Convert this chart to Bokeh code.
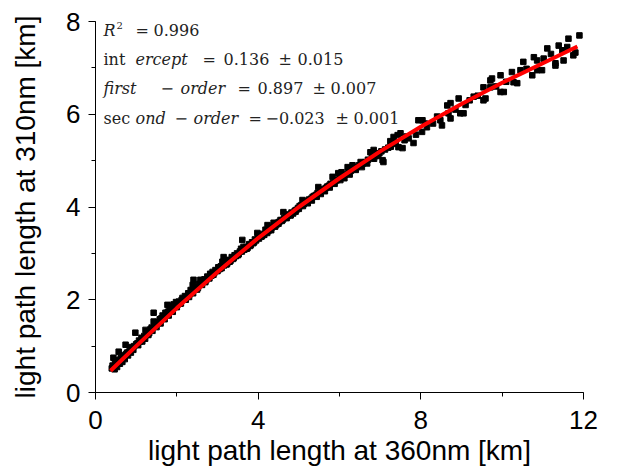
from bokeh.plotting import figure
from bokeh.models import Range1d, SingleIntervalTicker, Label
from bokeh.embed import file_html
from bokeh.resources import INLINE

# ---- data ----
x_360 = [0.40, 0.42, 0.44, 0.45, 0.48, 0.50, 0.52, 0.55, 0.57, 0.58, 0.62, 0.65, 0.68, 0.70, 0.74,
         0.75, 0.78, 0.82, 0.85, 0.88, 0.90, 0.95, 0.98, 1.00, 1.03, 1.07, 1.10, 1.13, 1.17, 1.20,
         1.23, 1.25, 1.28, 1.32, 1.35, 1.38, 1.43, 1.43, 1.45, 1.48, 1.52, 1.55, 1.58, 1.62, 1.65,
         1.68, 1.72, 1.77, 1.78, 1.82, 1.85, 1.88, 1.92, 1.95, 1.98,
         2.02, 2.05, 2.08, 2.12, 2.14, 2.18, 2.20, 2.24, 2.28, 2.32, 2.34, 2.36, 2.39, 2.41, 2.44,
         2.48, 2.52, 2.55, 2.58, 2.60, 2.64, 2.68, 2.72, 2.75, 2.78, 2.82, 2.85, 2.88, 2.92, 2.95,
         2.98, 3.02, 3.05, 3.08, 3.12, 3.15, 3.16, 3.20, 3.24, 3.28, 3.32, 3.35, 3.38, 3.42, 3.45,
         3.48, 3.52, 3.55, 3.58, 3.61, 3.64, 3.66, 3.70, 3.74, 3.78, 3.82, 3.85, 3.88, 3.92, 3.95,
         3.98, 4.00,
         4.04, 4.08, 4.12, 4.15, 4.18, 4.20, 4.23, 4.25, 4.30, 4.34, 4.38, 4.40, 4.45, 4.48, 4.52,
         4.55, 4.58, 4.62, 4.64, 4.68, 4.72, 4.75, 4.79, 4.82, 4.86, 4.90, 4.94, 4.98, 5.02, 5.06,
         5.09, 5.12, 5.16, 5.20, 5.25, 5.30, 5.34, 5.38, 5.42, 5.46, 5.48, 5.52, 5.56, 5.60, 5.66,
         5.70, 5.74, 5.78, 5.83, 5.85, 5.90, 5.94, 5.97, 6.00,
         6.05, 6.08, 6.14, 6.20, 6.22, 6.28, 6.32, 6.36, 6.42, 6.48, 6.52, 6.58, 6.64, 6.70, 6.76,
         6.80, 6.84, 6.88, 6.93, 6.98, 7.03, 7.06, 7.08, 7.12, 7.20, 7.26, 7.33, 7.38, 7.43, 7.45,
         7.50, 7.55, 7.60, 7.70, 7.82, 7.88, 7.94, 8.04, 8.03, 8.15, 8.30, 8.48, 8.52, 8.65, 8.68,
         8.73, 8.73, 8.93, 8.97, 9.05, 9.20, 9.40, 9.54, 9.54, 9.59, 9.71, 9.71, 9.75, 9.96, 9.96,
         10.04, 10.24, 10.28, 10.37, 10.45, 10.52, 10.74, 10.78, 10.86, 10.86, 10.98, 11.02, 11.11,
         11.31, 11.31, 11.39, 11.48, 11.51, 11.63, 11.75, 11.80, 11.90,
         0.47, 0.53, 0.60, 0.66, 0.72, 0.80, 0.87, 0.93, 1.05, 1.15, 1.22, 1.30, 1.40, 1.50, 1.60,
         1.70, 1.80, 1.90, 2.00, 2.10, 2.22, 2.30, 2.40, 2.50, 2.62, 2.70, 2.80, 2.90, 3.00, 3.10,
         3.22, 3.30, 3.40, 3.50, 3.60, 3.72, 3.80, 3.90, 4.02, 4.10, 4.22, 4.32, 4.42, 4.50, 4.60,
         4.70, 4.80, 4.92, 5.00, 5.10, 5.22, 5.32, 5.44, 5.54, 5.64, 5.76, 5.88, 6.02, 6.12, 6.25,
         6.40, 6.55, 6.68, 6.85, 6.95,
         7.25, 7.35, 7.65, 8.10, 8.40, 8.85, 9.10, 9.30, 9.85, 10.10, 10.60, 11.20, 11.60]
y_310 = [0.52, 0.58, 0.75, 0.55, 0.62, 0.60, 0.68, 0.66, 0.88, 0.70, 0.74, 0.72, 0.80, 0.77, 1.03,
         0.83, 0.86, 0.88, 0.92, 0.98, 0.94, 1.00, 1.29, 1.04, 1.06, 1.12, 1.10, 1.18, 1.16, 1.22,
         1.35, 1.24, 1.30, 1.28, 1.36, 1.40, 1.72, 1.53, 1.42, 1.46, 1.52, 1.50, 1.58, 1.60, 1.66,
         1.64, 1.72, 1.89, 1.74, 1.80, 1.78, 1.86, 1.90, 1.88, 1.95,
         1.90, 1.96, 1.92, 2.00, 2.04, 2.02, 2.08, 2.06, 2.14, 2.12, 2.21, 2.18, 2.32, 2.43, 2.22,
         2.28, 2.26, 2.34, 2.43, 2.36, 2.40, 2.44, 2.42, 2.50, 2.48, 2.56, 2.52, 2.60, 2.58, 2.64,
         2.62, 2.70, 2.66, 2.72, 2.82, 2.92, 2.74, 2.80, 2.78, 2.86, 2.84, 2.92, 2.88, 2.96, 2.94,
         3.00, 2.98, 3.04, 3.10, 3.29, 3.14, 3.08, 3.14, 3.12, 3.20, 3.18, 3.24, 3.22, 3.30, 3.28,
         3.44, 3.34,
         3.38, 3.36, 3.42, 3.40, 3.51, 3.46, 3.61, 3.48, 3.52, 3.56, 3.66, 3.58, 3.62, 3.66, 3.68,
         3.72, 3.70, 3.89, 3.76, 3.78, 3.80, 3.84, 3.82, 3.88, 3.86, 3.92, 3.94, 3.98, 4.02, 4.04,
         4.15, 4.06, 4.10, 4.12, 4.16, 4.18, 4.22, 4.24, 4.26, 4.30, 4.43, 4.32, 4.36, 4.38, 4.41,
         4.44, 4.46, 4.50, 4.65, 4.52, 4.56, 4.58, 4.73, 4.64,
         4.75, 4.66, 4.70, 4.86, 4.76, 4.78, 4.90, 4.84, 4.86, 4.90, 4.97, 4.94, 4.97, 5.02, 5.18,
         5.06, 5.23, 5.10, 5.16, 5.16, 5.20, 5.01, 4.97, 5.24, 5.28, 5.30, 5.51, 5.36, 5.55, 5.29,
         5.59, 5.27, 5.44, 5.48, 5.38, 5.56, 5.87, 5.87, 5.62, 5.72, 5.80, 5.87, 5.76, 6.19, 6.02,
         5.91, 6.24, 6.34, 6.02, 6.02, 6.30, 6.40, 6.58, 6.30, 6.34, 6.73, 6.58, 6.77, 6.84, 6.48,
         6.48, 6.91, 6.69, 6.67, 6.95, 7.13, 6.84, 7.23, 7.16, 6.95, 6.95, 7.20, 7.42,
         7.10, 7.05, 7.48, 7.38, 7.16, 7.63, 7.27, 7.33, 7.70,
         0.50, 0.55, 0.62, 0.66, 0.72, 0.80, 0.86, 0.92, 1.02, 1.10, 1.16, 1.24, 1.33, 1.41, 1.49,
         1.58, 1.66, 1.74, 1.84, 1.92, 2.00, 2.06, 2.14, 2.22, 2.32, 2.38, 2.46, 2.54, 2.62, 2.68,
         2.76, 2.82, 2.90, 2.96, 3.04, 3.10, 3.16, 3.24, 3.32, 3.38, 3.44, 3.50, 3.58, 3.64, 3.72,
         3.76, 3.82, 3.90, 3.96, 4.02, 4.08, 4.14, 4.22, 4.28, 4.34, 4.42, 4.50, 4.58, 4.62, 4.70,
         4.80, 4.86, 4.94, 5.04, 5.10,
         5.42, 5.40, 5.52, 5.80, 5.95, 6.10, 6.20, 6.38, 6.60, 6.70, 6.98, 7.30, 7.45]

# second-order polynomial fit curve, as drawn
fit_x = [0.37, 1.0, 2.0, 3.0, 4.0, 5.0, 6.0, 7.0, 8.0, 9.0, 10.0, 11.0, 11.85]
fit_y = [0.47, 1.00, 1.82, 2.60, 3.33, 4.00, 4.62, 5.20, 5.73, 6.22, 6.68, 7.10, 7.46]

x_ticks_interval = 4
y_ticks_interval = 2

W, H = 621, 468
L, R, T, B = 95, 38, 21, 75

p = figure(width=W, height=H, output_backend="svg", toolbar_location=None,
           x_range=Range1d(0, 12), y_range=Range1d(0, 8),
           min_border_left=L, min_border_right=R, min_border_top=T, min_border_bottom=B)
p.background_fill_color = "white"
p.border_fill_color = "white"
p.outline_line_color = None
p.grid.visible = False

p.xaxis.ticker = SingleIntervalTicker(interval=x_ticks_interval, num_minor_ticks=2)
p.yaxis.ticker = SingleIntervalTicker(interval=y_ticks_interval, num_minor_ticks=2)
for ax in (p.xaxis[0], p.yaxis[0]):
    ax.axis_line_color = "black"
    ax.axis_line_width = 1
    ax.major_tick_line_color = "black"
    ax.minor_tick_line_color = "black"
    ax.major_tick_in = 0
    ax.major_tick_out = 7
    ax.minor_tick_in = 0
    ax.minor_tick_out = 4
    ax.major_label_text_font = "Liberation Sans"
    ax.major_label_text_font_size = "26px"
    ax.major_label_text_color = "black"
    ax.axis_label_text_font = "Liberation Sans"
    ax.axis_label_text_font_size = "28px"
    ax.axis_label_text_font_style = "normal"
    ax.axis_label_text_color = "black"

p.xaxis.major_label_standoff = 11
p.yaxis.major_label_standoff = 8
p.xaxis.axis_label = "light path length at 360nm [km]"
p.yaxis.axis_label = "light path length at 310nm [km]"
p.xaxis.axis_label_standoff = 3
p.yaxis.axis_label_standoff = 22

p.scatter(x_360, y_310, marker="square", size=5.5, color="black")
p.line(fit_x, fit_y, line_color="#ff0000", line_width=4)

# ---- annotation text (pixel layout converted to data coords) ----
def dx(px):
    return (px - 95) / (488 / 12)

def dy(py):
    return (393 - py) / (372 / 8)

tokens = [
    # (text, x_px, y_px, italic, size)
    ("R", 103, 30, True, 16), ("2", 116, 25, False, 10), ("=", 135, 30, False, 16), ("0.996", 153, 30, False, 16),
    ("int", 103, 59, False, 16), ("ercept", 135, 59, True, 16), ("=", 202, 59, False, 16),
    ("0.136", 223, 59, False, 16), ("±", 278, 59, False, 16), ("0.015", 297, 59, False, 16),
    ("first", 103, 88, True, 16), ("−", 160, 88, True, 16), ("order", 180, 88, True, 16),
    ("=", 237, 88, False, 16), ("0.897", 257, 88, False, 16), ("±", 312, 88, False, 16), ("0.007", 330, 88, False, 16),
    ("sec", 103, 118, False, 16), ("ond", 135, 118, True, 16), ("−", 174, 118, True, 16),
    ("order", 193, 118, True, 16), ("=", 248, 118, False, 16), ("−0.023", 265, 118, False, 16),
    ("±", 335, 118, False, 16), ("0.001", 353, 118, False, 16),
]
for txt, xp, yp, ital, sz in tokens:
    p.add_layout(Label(x=dx(xp), y=dy(yp), text=txt, text_font="DejaVu Serif",
                       text_font_size=f"{sz}px", text_font_style="italic" if ital else "normal",
                       text_align="left", text_baseline="middle", text_color="#222222"))

open("out.html", "w").write(file_html(p, INLINE))
